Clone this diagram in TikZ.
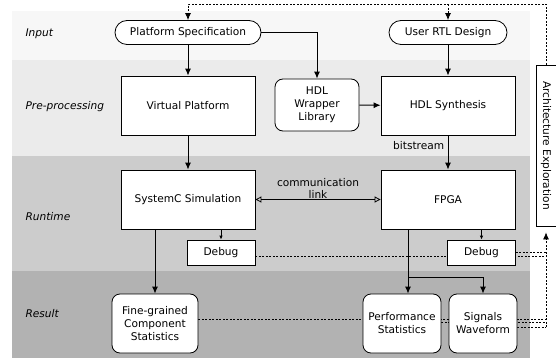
\documentclass[tikz,border=0pt]{standalone}
\usepackage{fontspec}
\setmainfont{DejaVu Sans}
\usetikzlibrary{arrows.meta,backgrounds}

\begin{document}
\begin{tikzpicture}[
  x=1pt, y=1pt,
  font=\fontsize{10.6}{13}\selectfont,
  >={Latex[length=7pt,width=6pt]},
  block/.style={rectangle, draw, fill=white, line width=0.8pt, minimum width=134pt, minimum height=59pt, align=center},
  source/.style={rectangle, draw, fill=white, line width=0.8pt, rounded corners=12pt, minimum height=24pt},
  result/.style={rectangle, draw, fill=white, line width=0.8pt, rounded corners=8pt, minimum height=59pt, align=center, inner sep=1pt},
  dbgbox/.style={rectangle, draw, fill=white, line width=0.8pt, minimum width=68pt, minimum height=25pt},
  stage/.style={anchor=west, font=\fontsize{10.6}{13}\selectfont\itshape},
  flow/.style={->, line width=1pt},
  tap/.style={->, >={Latex[length=4pt,width=3.5pt]}, line width=0.8pt},
  fb/.style={dash pattern=on 2pt off 1.5pt, line width=0.8pt},
  node distance=94pt
]
\useasboundingbox (0,0) rectangle (556,-358);

\begin{scope}[on background layer]
\fill[gray!6] (12,-11) rectangle (530,-60);
\fill[gray!16] (12,-60) rectangle (530,-156);
\fill[gray!40] (12,-156) rectangle (530,-271);
\fill[gray!60] (12,-271) rectangle (530,-358);
\end{scope}

\node[stage] (sin) at (22,-34) {Input};
\node[stage] (spre) at (22,-107) {Pre-processing};
\node[stage] (srun) at (22,-217) {Runtime};
\node[stage] (sres) at (22,-314) {Result};

\node[block] (vp) at (188,-105.5) {Virtual Platform};
\node[source, minimum width=146pt, above of=vp, node distance=73pt] (pspec) {Platform Specification};
\node[block, below of=vp] (sim) {SystemC Simulation};
\node[block, right of=vp, node distance=260pt] (synth) {HDL Synthesis};
\node[source, minimum width=118pt, above of=synth, node distance=73pt] (urtl) {User RTL Design};
\node[block, below of=synth] (fpga) {FPGA};
\node[result, minimum width=84pt, minimum height=52pt] (wrap) at (317,-105) {HDL\\Wrapper\\Library};

\node[dbgbox] (dbg1) at (221,-252.5) {Debug};
\node[dbgbox] (dbg2) at (481.5,-252.5) {Debug};

\node[result, minimum width=86pt] (fine) at (155,-323.5) {Fine-grained\\Component\\Statistics};
\node[result, minimum width=78pt] (perf) at (402,-323.5) {Performance\\Statistics};
\node[result, minimum width=68pt] (sig) at (483,-323.5) {Signals\\Waveform};

\node[draw, fill=white, line width=0.8pt, minimum width=20pt, minimum height=161pt] (arch) at (546,-145.5) {};
\node[rotate=-90, inner sep=0pt] (archtxt) at (arch.center) {Architecture Exploration};

\draw[flow] (pspec) -- (vp);
\draw[flow] (pspec) -| (wrap);
\draw[flow] (urtl) -- (synth);
\draw[flow] (wrap) -- (synth);
\draw[flow] (vp) -- (sim);
\draw[flow] (synth) -- (fpga) node[pos=0.3, left] {bitstream};
\draw[{Triangle[open,length=6pt,width=6pt]}-{Triangle[open,length=6pt,width=6pt]}, line width=0.8pt] (sim) -- (fpga)
  node[midway, above, align=center, inner sep=1pt, font=\fontsize{10.6}{12}\selectfont] {communication\\link};
\draw[tap] (sim.south -| dbg1) -- (dbg1);
\draw[tap] (fpga.south -| dbg2) -- (dbg2);
\draw[flow] (sim.south -| fine) -- (fine);
\draw[flow] ([xshift=6pt]perf.north |- fpga.south) -- ([xshift=6pt]perf.north);
\draw[flow] ([xshift=6pt,yshift=16pt]perf.north) -| (sig);

\begin{scope}[on background layer]
\draw[fb] ([yshift=-3.5pt]dbg1.east) -- ([yshift=-3.5pt]arch.south |- dbg1.east);
\draw[fb] (dbg2.east) -- (arch.south |- dbg2.east);
\draw[fb] ([yshift=4.5pt]fine.east) -- ([yshift=4.5pt]arch.south |- fine.east);
\draw[fb] ([yshift=1.5pt]perf.east) -- ([yshift=1.5pt]arch.south |- perf.east);
\draw[fb] ([yshift=-3.5pt]sig.east) -- ([yshift=-3.5pt]arch.south |- sig.east);
\end{scope}
\draw[fb, ->] ([yshift=-3.5pt]arch.south |- sig.east) -- ([yshift=-6pt]arch.south);
\draw[fb, ->] (arch.north) |- ([yshift=16pt]pspec.north) -- (pspec.north);
\draw[fb, ->] ([yshift=16pt]urtl.north) -- (urtl.north);
\end{tikzpicture}
\end{document}
